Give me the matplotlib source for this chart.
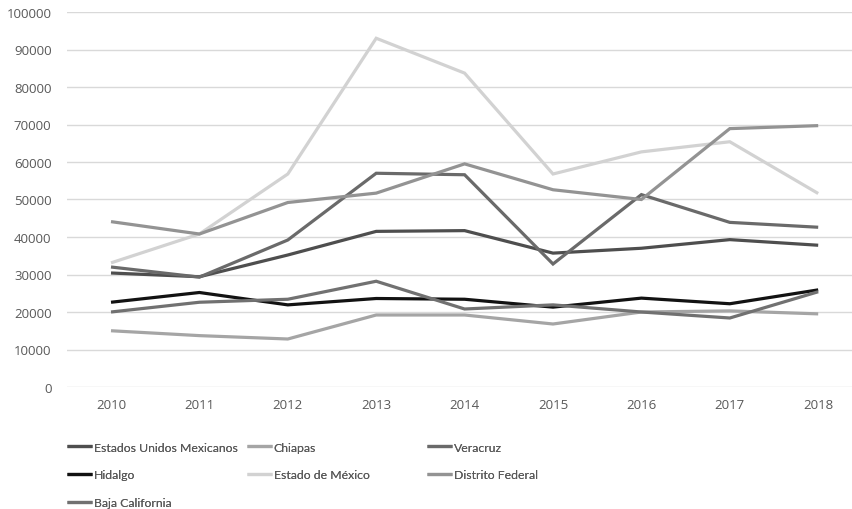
import matplotlib
matplotlib.use("Agg")
import matplotlib.pyplot as plt

years = ["2010", "2011", "2012", "2013", "2014", "2015", "2016", "2017", "2018"]
series_names = ["Estados Unidos Mexicanos", "Chiapas", "Veracruz", "Hidalgo",
                "Estado de México", "Distrito Federal", "Baja California"]
estados_unidos = [30400, 29400, 35200, 41500, 41700, 35700, 37000, 39300, 37800]
chiapas = [15000, 13700, 12800, 19200, 19200, 16800, 20000, 20300, 19500]
veracruz = [32000, 29300, 39200, 57000, 56600, 32800, 51300, 43900, 42600]
hidalgo = [22600, 25200, 21900, 23600, 23400, 21300, 23700, 22200, 25900]
edomex = [33100, 40800, 56800, 93000, 83700, 56800, 62700, 65400, 51600]
distrito_federal = [44100, 40800, 49200, 51700, 59500, 52600, 50000, 68900, 69700]
baja_california = [20000, 22600, 23400, 28200, 20800, 21900, 20000, 18400, 25400]
y_ticks = [0, 10000, 20000, 30000, 40000, 50000, 60000, 70000, 80000, 90000, 100000]

values = [estados_unidos, chiapas, veracruz, hidalgo, edomex, distrito_federal, baja_california]
colors = ["#4e4e4e", "#a5a5a5", "#6a6a6a", "#121212", "#d2d2d2", "#939393", "#717171"]

plt.rcParams['font.family'] = ['Open Sans', 'DejaVu Sans']

fig = plt.figure(figsize=(8.52, 5.10), dpi=100)
W, H = 852, 510
left_px, right_px = 66.8, 862.4
top_px, bottom_px = 13, 388
ax = fig.add_axes([left_px / W, (H - bottom_px) / H, (right_px - left_px) / W, (bottom_px - top_px) / H])

x = list(range(len(years)))
lines = []
for name, vals, c in zip(series_names, values, colors):
    ln, = ax.plot(x, vals, color=c, lw=2.3, solid_joinstyle='miter', solid_capstyle='butt', label=name)
    lines.append(ln)

ax.set_xlim(-0.5, len(years) - 0.5)
ax.set_ylim(0, 100000)
ax.set_yticks(y_ticks)
ax.set_yticklabels([str(v) for v in y_ticks])
ax.set_xticks(x)
ax.set_xticklabels(years)
ax.grid(axis='y', color='#d9d9d9', lw=1.0)
ax.set_axisbelow(True)
for s in ax.spines.values():
    s.set_visible(False)
ax.tick_params(axis='both', length=0, colors='#595959', labelsize=9.5)
ax.tick_params(axis='y', pad=11)
ax.tick_params(axis='x', pad=8)

# legend: three columns placed manually
legend_font = {'family': ['Lato', 'DejaVu Sans'], 'size': 8.8}
cols = [([0, 3, 6], 63), ([1, 4], 243), ([2, 5], 423)]
for idxs, xpx in cols:
    leg = fig.legend([lines[i] for i in idxs], [series_names[i] for i in idxs],
                     loc='upper left', bbox_to_anchor=(xpx / W, 1 - 439 / H),
                     frameon=False, prop=legend_font, handlelength=2.1, handletextpad=0.1,
                     labelspacing=1.37, borderaxespad=0, borderpad=0.3, labelcolor='#595959')
    fig.add_artist(leg)

fig.savefig("out.png", dpi=100)
